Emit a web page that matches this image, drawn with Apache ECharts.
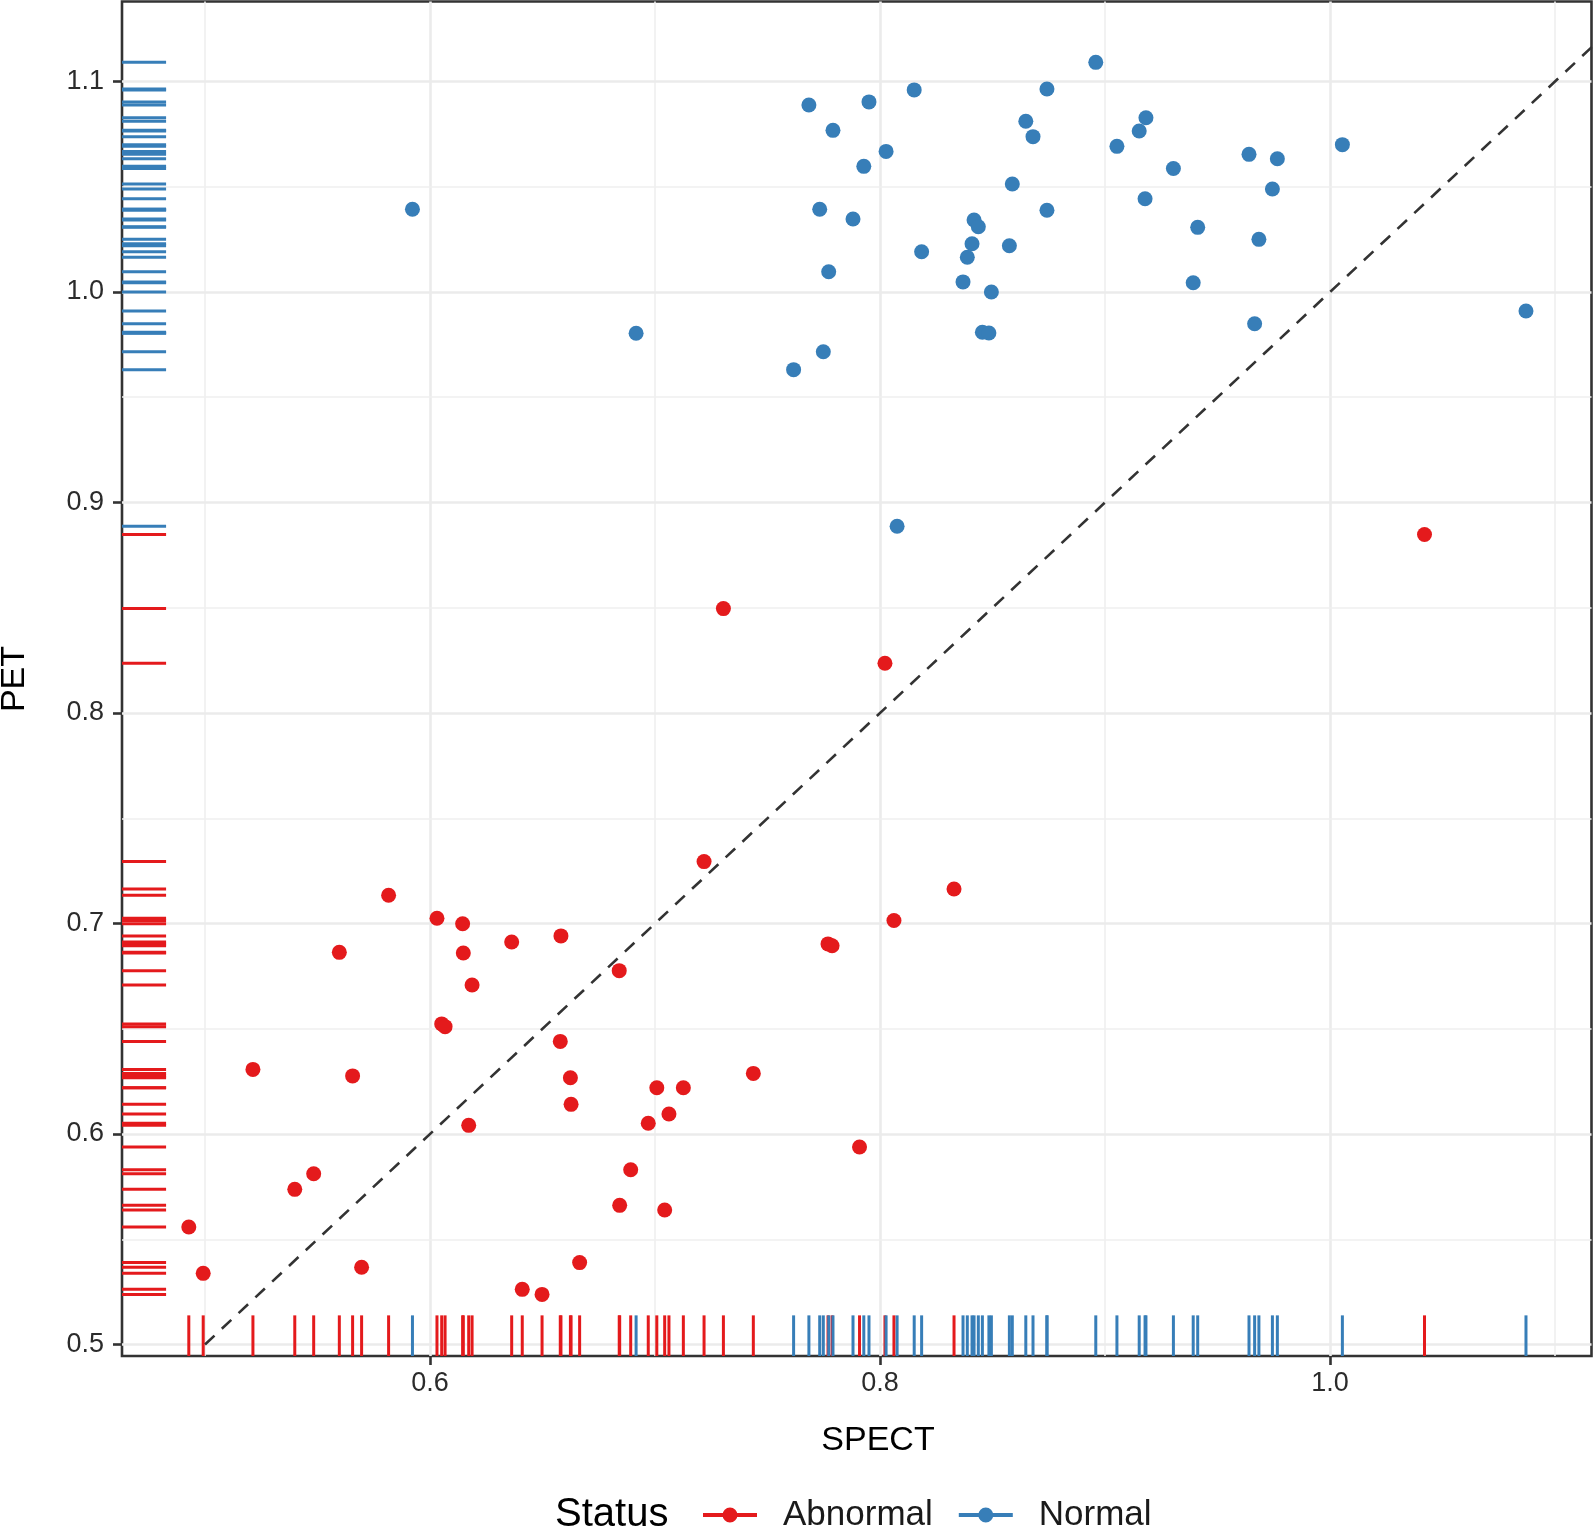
<!DOCTYPE html>
<html>
<head>
<meta charset="utf-8">
<script src="https://cdn.jsdelivr.net/npm/echarts@6/dist/echarts.min.js"></script>
<style>
html,body{margin:0;padding:0;background:#ffffff;}
#chart{width:1593px;height:1532px;}
</style>
</head>
<body>
<div id="chart"></div>
<script>
// ---- data ----
const abnormalSPECT = [0.5816,0.6031,0.6145,0.5597,0.6148,0.6187,0.6052,0.6067,0.5213,0.5656,0.6172,0.5483,0.5399,0.4928,0.4992,0.5696,
  0.7218,0.6363,0.6582,0.6841,0.6579,0.6624,0.6627,0.7008,0.7126,0.7062,0.6970,0.7437,0.6892,0.6843,0.7043,0.6665,0.6410,0.6498,
  1.0420,0.7304,0.8022,0.8329,0.8062,0.7769,0.7787,0.7909];
const abnormalPET = [0.7134,0.7025,0.6999,0.6863,0.6860,0.6708,0.6523,0.6510,0.6307,0.6276,0.6041,0.5811,0.5737,0.5558,0.5338,0.5367,
  0.7294,0.6912,0.6941,0.6776,0.6440,0.6267,0.6141,0.6220,0.6220,0.6095,0.6051,0.6288,0.5830,0.5661,0.5639,0.5389,0.5262,0.5238,
  0.8848,0.8496,0.8236,0.7164,0.7014,0.6903,0.6894,0.5938];
const normalSPECT = [0.8959,0.8742,0.8152,0.7684,0.7951,0.7791,0.8027,0.7928,0.8648,0.8680,0.9182,0.9152,0.9053,0.9304,0.8588,0.9178,
  0.7732,0.7880,0.8742,0.8418,0.8437,0.8185,0.8409,0.8388,0.8575,0.7772,0.8369,0.8495,0.8455,0.8484,0.7748,0.7616,
  1.0055,0.9640,0.9766,0.9744,0.9412,0.9684,0.9392,0.9665,1.0871,0.5922,0.6916,0.8076];
const normalPET = [1.1091,1.0964,1.0960,1.0888,1.0903,1.0768,1.0668,1.0597,1.0811,1.0738,1.0828,1.0765,1.0692,1.0587,1.0513,1.0443,
  1.0393,1.0347,1.0388,1.0342,1.0310,1.0191,1.0229,1.0165,1.0220,1.0096,1.0048,1.0000,0.9809,0.9805,0.9716,0.9631,
  1.0700,1.0654,1.0633,1.0489,1.0307,1.0250,1.0044,0.9849,0.9910,1.0393,0.9804,0.8887];
const statusNames = ['Abnormal', 'Normal'];
const xTicks = [0.6, 0.8, 1.0];
const yTicks = [0.5, 0.6, 0.7, 0.8, 0.9, 1.0, 1.1];
const xMinorTicks = [0.5, 0.7, 0.9, 1.1];
const yMinorTicks = [0.55, 0.65, 0.75, 0.85, 0.95, 1.05];
const refLine = [0.5, 1.2];
const xRange = [0.46311, 1.11622];
const yRange = [0.49454, 1.13800];

// ---- styling ----
const RED = '#E41A1C', BLUE = '#377EB8';
const FONT = '"Liberation Sans", Arial, sans-serif';
const zip = (a, b) => a.map((v, i) => [v, b[i]]);
const abnormalData = zip(abnormalSPECT, abnormalPET);
const normalData = zip(normalSPECT, normalPET);

function rugBottom(color) {
  return function (params, api) {
    const cs = params.coordSys;
    const x = api.coord([api.value(0), api.value(1)])[0];
    const yb = cs.y + cs.height;
    const len = cs.height * 0.03;
    return { type: 'line', shape: { x1: x, y1: yb, x2: x, y2: yb - len },
      style: { stroke: color, lineWidth: 3 } };
  };
}
function rugLeft(color) {
  return function (params, api) {
    const cs = params.coordSys;
    const y = api.coord([api.value(0), api.value(1)])[1];
    const len = cs.width * 0.03;
    return { type: 'line', shape: { x1: cs.x, y1: y, x2: cs.x + len, y2: y },
      style: { stroke: color, lineWidth: 3 } };
  };
}

const gridLines = [];
xTicks.forEach(v => gridLines.push({ xAxis: v, lineStyle: { color: '#EBEBEB', width: 2.6, type: 'solid' } }));
xMinorTicks.forEach(v => gridLines.push({ xAxis: v, lineStyle: { color: '#EFEFEF', width: 1.6, type: 'solid' } }));
yTicks.forEach(v => gridLines.push({ yAxis: v, lineStyle: { color: '#EBEBEB', width: 2.6, type: 'solid' } }));
yMinorTicks.forEach(v => gridLines.push({ yAxis: v, lineStyle: { color: '#EFEFEF', width: 1.6, type: 'solid' } }));

const legendIcon = 'path://M0,5.5H54V9.5H0Z M19.5,7.5A7.5,7.5 0 1,1 34.5,7.5A7.5,7.5 0 1,1 19.5,7.5Z';

const chart = echarts.init(document.getElementById('chart'), null, { renderer: 'canvas' });
chart.setOption({
  animation: false,
  backgroundColor: '#ffffff',
  textStyle: { fontFamily: FONT },
  grid: {
    left: 122, top: 1.5, right: 1.5, bottom: 176,
    show: true, borderColor: '#333333', borderWidth: 2.6, backgroundColor: '#ffffff'
  },
  xAxis: {
    type: 'value', min: xRange[0], max: xRange[1],
    axisLine: { show: false },
    splitLine: { show: false },
    axisTick: { show: true, customValues: xTicks, length: 9, lineStyle: { color: '#333333', width: 2.6 } },
    axisLabel: { customValues: xTicks, formatter: v => Number(v).toFixed(1), fontSize: 27, color: '#2b2b2b', margin: 14, fontFamily: FONT }
  },
  yAxis: {
    type: 'value', min: yRange[0], max: yRange[1],
    axisLine: { show: false },
    splitLine: { show: false },
    axisTick: { show: true, customValues: yTicks, length: 9, lineStyle: { color: '#333333', width: 2.6 } },
    axisLabel: { customValues: yTicks, formatter: v => Number(v).toFixed(1), fontSize: 27, color: '#2b2b2b', margin: 18, fontFamily: FONT }
  },
  legend: {
    data: statusNames.map(n => ({ name: n, icon: legendIcon })),
    left: 703, top: 1495, orient: 'horizontal', padding: 0,
    itemWidth: 54, itemHeight: 15, itemGap: 26,
    selectedMode: false,
    textStyle: { fontSize: 35, color: '#1a1a1a', lineHeight: 40, padding: [0, 0, 0, 21], fontFamily: FONT }
  },
  graphic: [
    { type: 'text', x: 15, y: 679, rotation: Math.PI / 2,
      style: { text: 'PET', fontSize: 34, fill: '#000000', align: 'center', verticalAlign: 'middle', fontFamily: FONT } },
    { type: 'text', x: 878, y: 1441,
      style: { text: 'SPECT', fontSize: 34, fill: '#000000', align: 'center', verticalAlign: 'middle', fontFamily: FONT } },
    { type: 'text', x: 555, y: 1515,
      style: { text: 'Status', fontSize: 40, fill: '#000000', align: 'left', verticalAlign: 'middle', fontFamily: FONT } }
  ],
  series: [
    {
      name: 'gridlines', type: 'line', data: [], silent: true,
      markLine: { silent: true, z: 1, symbol: ['none', 'none'], label: { show: false }, emphasis: { disabled: true }, data: gridLines }
    },
    { name: statusNames[0], type: 'scatter', data: abnormalData, symbolSize: 15, itemStyle: { color: RED, opacity: 1 }, z: 3 },
    { name: statusNames[1], type: 'scatter', data: normalData, symbolSize: 15, itemStyle: { color: BLUE, opacity: 1 }, z: 3 },
    { name: 'rugAbnX', type: 'custom', data: abnormalData, renderItem: rugBottom(RED), z: 4, silent: true },
    { name: 'rugNorX', type: 'custom', data: normalData, renderItem: rugBottom(BLUE), z: 4, silent: true },
    { name: 'rugAbnY', type: 'custom', data: abnormalData, renderItem: rugLeft(RED), z: 4, silent: true },
    { name: 'rugNorY', type: 'custom', data: normalData, renderItem: rugLeft(BLUE), z: 4, silent: true },
    {
      name: 'identity', type: 'line', data: refLine.map(v => [v, v]), symbol: 'none', clip: true, silent: true, z: 5,
      lineStyle: { color: '#333333', width: 2.6, type: [13, 10] }
    }
  ]
});
</script>
</body>
</html>
